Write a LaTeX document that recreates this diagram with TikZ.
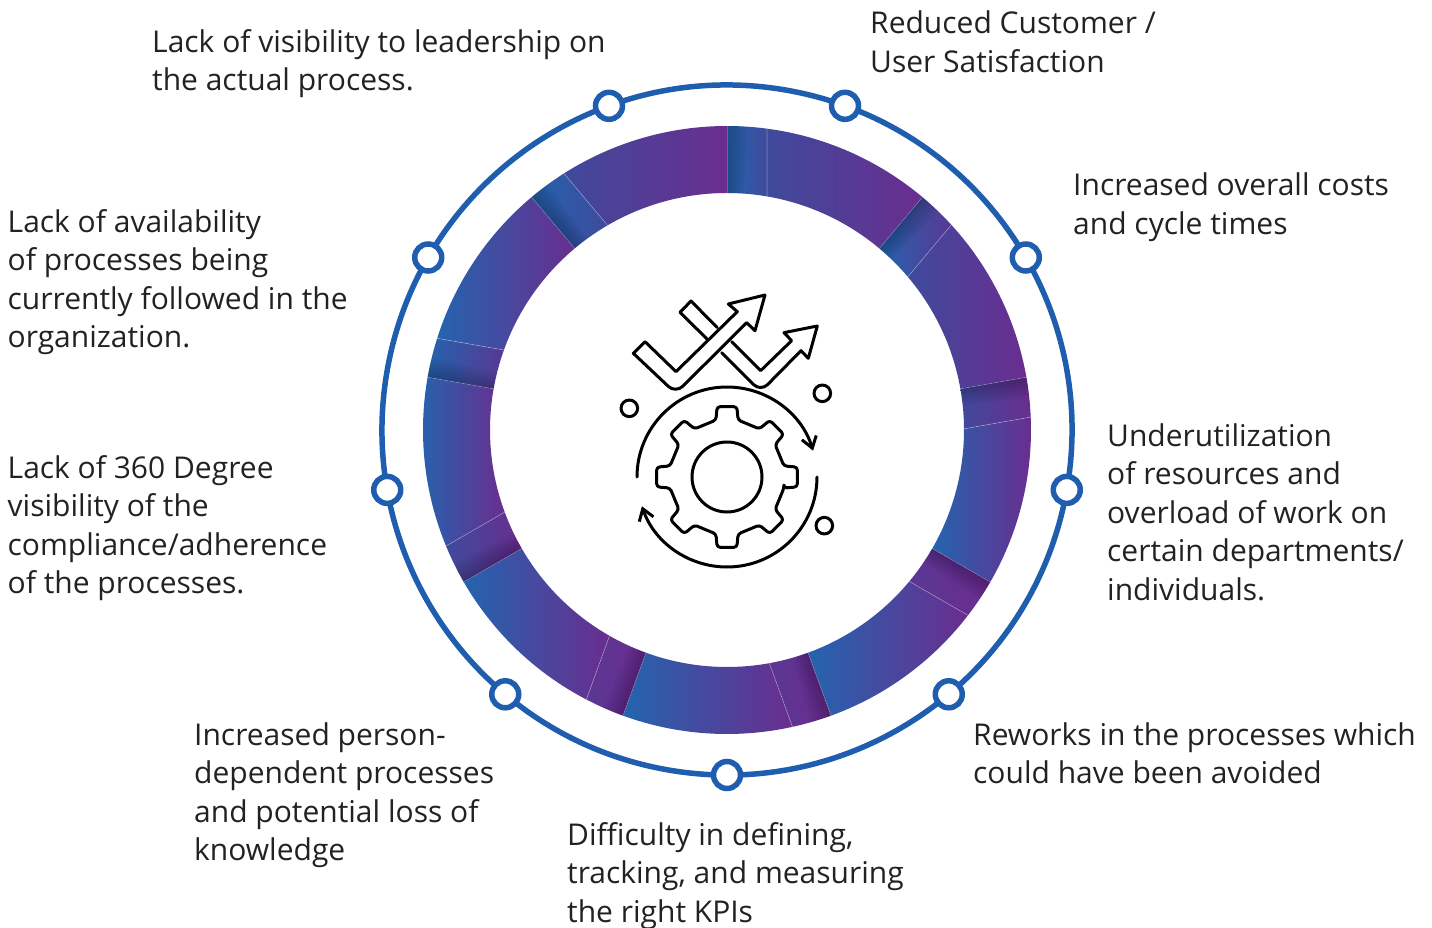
\documentclass[tikz,border=0pt]{standalone}
\usepackage{fontspec}
\setmainfont{Open Sans}
\usepackage{tikz}
\usetikzlibrary{arrows.meta}
\definecolor{ringblue}{HTML}{1F5DAE}
\definecolor{segblue}{HTML}{2464AE}
\definecolor{segmid}{HTML}{3F4A9C}
\definecolor{seglate}{HTML}{5A3793}
\definecolor{segpurple}{HTML}{6A2D8F}
\definecolor{txtgrey}{HTML}{222222}
\tikzset{
    labeltxt/.style={anchor=north west, align=left, inner sep=0pt, text=txtgrey, font=\fontsize{30}{38.5}\selectfont},
    ringdot/.style={circle, draw=ringblue, fill=white, line width=5.5pt, minimum size=27pt, inner sep=0pt},
    iconline/.style={line width=3pt, line join=round, line cap=round, black},
    iconhead/.style={-{Straight Barb[length=11pt,width=15pt]}}
}
\newcommand{\rout}{304}
\newcommand{\rin}{237}

\begin{document}
\begin{tikzpicture}[x=1pt,y=1pt]
    \useasboundingbox (0,0) rectangle (1432,-928);
    % ring and gradient segments
    \begin{scope}[shift={(727,-430)}]
    \foreach \sa/\cl/\cr/\pl/\pr in {
        90/segmid/segpurple/segblue/segmid, 50/segmid/segpurple/segblue/seglate,
        10/segblue/segpurple/segmid/segpurple, -30/segblue/segpurple/seglate/segpurple,
        -70/segblue/segpurple/seglate/segpurple, -110/segblue/segpurple/seglate/segpurple,
        -150/segblue/segpurple/segmid/segpurple, 170/segblue/segpurple/segblue/seglate,
        130/segmid/segpurple/segblue/segmid}{
        \pgfmathsetmacro{\so}{\sa-7.56}
        \pgfmathsetmacro{\si}{\sa-9.72}
        \pgfmathsetmacro{\sb}{\sa-40}
        % long part, then the short part with its shadow
        \shade[left color=\cl, right color=\cr] (\so:\rout) arc (\so:\sb:\rout) -- (\sb:\rin) arc (\sb:\si:\rin) -- cycle;
        \shade[left color=\pl, right color=\pr] (\sa:\rout) arc (\sa:\so:\rout) -- (\si:\rin) arc (\si:\sa:\rin) -- cycle;
        \foreach \k in {1,...,8}{
            \pgfmathsetmacro{\se}{\sa-0.5*\k}
            \fill[black, opacity=.028] (\sa:\rout) arc (\sa:\se:\rout) -- (\se:\rin) arc (\se:\sa:\rin) -- cycle;
        }
        \draw[white, opacity=.35, line width=.6pt] (\si:\rin) -- (\so:\rout);
        \draw[white, opacity=.25, line width=.6pt] (\sa:\rin) -- (\sa:\rout);
    }
    \draw[ringblue, line width=5.5pt] (-10:345) arc (-10:350:345);
    \foreach \a/\n in {110/a, 70/b, 30/c, -10/d, -50/e, -90/f, -130/g, -170/h, 150/i}{
        \node[ringdot] (dot\n) at (\a:345) {};
    }
    \end{scope}
    % gear icon
    \begin{scope}[shift={(727,-477)}]
    \draw[iconline] (0,0) circle (35);
    \draw[iconline, rounded corners=3pt] (-11:58) \foreach \a in {0,45,...,315}{
        -- (\a-11:58) -- (\a-8:71) -- (\a+8:71) -- (\a+11:58)} -- cycle;
    \draw[iconline, iconhead] (180:90) arc (180:17:90);
    \draw[iconline, iconhead] (0:90) arc (0:-161:90);
    \end{scope}
    % arrows, traced in 1/3 px
    \begin{scope}[shift={(600,-280)},x=.3333pt,y=-.3333pt]
    \draw[iconline] (100,220) -- (135,185) -- (228,275) -- (412,95) -- (385,72) -- (495,45) -- (465,152) -- (440,128)
        [rounded corners=10pt] -- (227,340) [sharp corners] -- cycle;
    \draw[iconline] (322,178) -- (240,97) -- (273,63) -- (352,143);
    \draw[iconline] (395,185) -- (482,272) -- (575,182) -- (552,158) -- (652,138) -- (625,235) -- (603,212)
        [rounded corners=10pt] -- (482,335) [sharp corners] -- (365,218);
    \draw[iconline] (88,385) circle (8.3pt);
    \draw[iconline] (667,340) circle (8.3pt);
    \draw[iconline] (673,737) circle (8.3pt);
    \end{scope}
    % labels
    \node[labeltxt] (lblvis) at (152,-29) {Lack of visibility to leadership on\\the actual process.};
    \node[labeltxt] (lblcust) at (870,-11) {Reduced Customer /\\User Satisfaction};
    \node[labeltxt] (lblcost) at (1073,-173) {Increased overall costs\\and cycle times};
    \node[labeltxt] (lblres) at (1107,-423.5) {Underutilization\\of resources and\\overload of work on\\certain departments/\\individuals.};
    \node[labeltxt] (lblrew) at (973,-722) {Reworks in the processes which\\could have been avoided};
    \node[labeltxt] (lblkpi) at (567,-822) {Difficulty in defining,\\tracking, and measuring\\the right KPIs};
    \node[labeltxt] (lblper) at (194,-722) {Increased person-\\dependent processes\\and potential loss of\\knowledge};
    \node[labeltxt] (lbl360) at (7.5,-455) {Lack of 360 Degree\\visibility of the\\compliance/adherence\\of the processes.};
    \node[labeltxt] (lblavail) at (7.5,-209) {Lack of availability\\of processes being\\currently followed in the\\organization.};
\end{tikzpicture}
\end{document}
